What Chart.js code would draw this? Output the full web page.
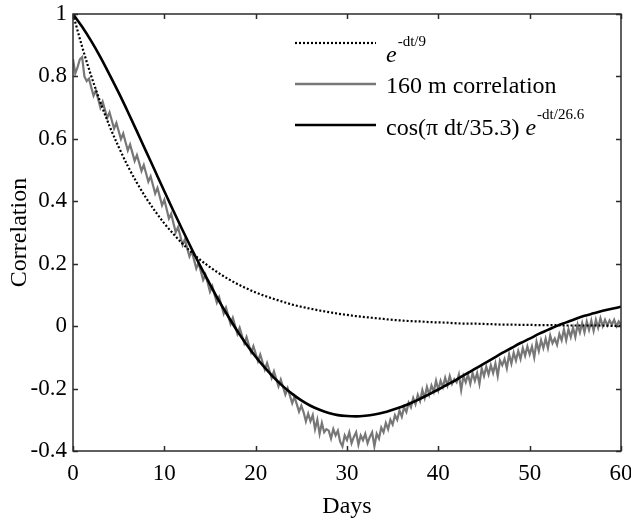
<!DOCTYPE html>
<html><head><meta charset="utf-8">
<script src="https://cdn.jsdelivr.net/npm/chart.js@4.4.1/dist/chart.umd.min.js"></script>
<style>html,body{margin:0;padding:0;background:#fff}#wrap{position:relative;width:631px;height:523px}</style>
</head><body><div id="wrap"><canvas id="c" width="631" height="523"></canvas></div>
<script>
const xTicks = [0, 10, 20, 30, 40, 50, 60];
const yTicks = [-0.4, -0.2, 0, 0.2, 0.4, 0.6, 0.8, 1];
const xTitle = "Days";
const yTitle = "Correlation";

// smooth curves, one value per day (day 0..60)
const fitDays = [0,1,2,3,4,5,6,7,8,9,10,11,12,13,14,15,16,17,18,19,20,21,22,23,24,25,26,27,28,29,30,
  31,32,33,34,35,36,37,38,39,40,41,42,43,44,45,46,47,48,49,50,51,52,53,54,55,56,57,58,59,60];
const expDecay = [1.000,0.895,0.801,0.717,0.641,0.574,0.513,0.459,0.411,0.368,0.329,0.295,0.264,0.236,0.211,0.189,
  0.169,0.151,0.135,0.121,0.108,0.097,0.087,0.078,0.069,0.062,0.056,0.050,0.045,0.040,0.036,0.032,0.029,0.026,
  0.023,0.020,0.018,0.016,0.015,0.013,0.012,0.011,0.009,0.008,0.008,0.007,0.006,0.005,0.005,0.004,0.004,0.003,
  0.003,0.003,0.002,0.002,0.002,0.002,0.002,0.001,0.001];
const cosDecay = [1.000,0.959,0.913,0.862,0.806,0.748,0.687,0.624,0.560,0.496,0.432,0.369,0.307,0.247,0.189,0.134,
  0.080,0.031,-0.016,-0.059,-0.098,-0.133,-0.165,-0.193,-0.217,-0.238,-0.255,-0.268,-0.278,-0.285,-0.288,-0.289,
  -0.287,-0.283,-0.277,-0.268,-0.258,-0.246,-0.233,-0.218,-0.203,-0.187,-0.171,-0.154,-0.137,-0.120,-0.103,-0.086,
  -0.070,-0.054,-0.040,-0.025,-0.012,0.001,0.012,0.023,0.033,0.041,0.049,0.056,0.062];

// observed 160 m correlation, every 0.25 day from day 0
const obsStep = 0.25;
const obsValues = [
  0.855,0.810,0.830,0.855, 0.862,0.800,0.785,0.793, 0.765,0.738,0.755,0.728, 0.700,0.719,0.693,0.667,
  0.685,0.659,0.633,0.651, 0.625,0.599,0.617,0.590, 0.563,0.582,0.556,0.529, 0.548,0.523,0.497,0.516,
  0.490,0.463,0.480,0.452, 0.425,0.443,0.415,0.387, 0.405,0.375,0.345,0.360, 0.330,0.301,0.317,0.289,
  0.260,0.278,0.250,0.223, 0.240,0.213,0.185,0.203, 0.175,0.148,0.165,0.138, 0.110,0.128,0.101,0.075,
  0.093,0.067,0.040,0.059, 0.033,0.007,0.027,0.001, -0.025,-0.005,-0.030,-0.055, -0.035,-0.060,-0.084,-0.064,
  -0.088,-0.112,-0.091,-0.115, -0.139,-0.118,-0.142,-0.166, -0.145,-0.169,-0.193,-0.171, -0.195,-0.219,-0.199,-0.223,
  -0.247,-0.226,-0.250,-0.274, -0.255,-0.276,-0.305,-0.280, -0.305,-0.285,-0.330,-0.300, -0.345,-0.310,-0.340,-0.330,
  -0.335,-0.360,-0.330,-0.350, -0.335,-0.370,-0.385,-0.350, -0.365,-0.340,-0.375,-0.355, -0.340,-0.380,-0.350,-0.365,
  -0.345,-0.375,-0.355,-0.340, -0.385,-0.345,-0.360,-0.325, -0.340,-0.310,-0.330,-0.300, -0.315,-0.285,-0.300,-0.270,
  -0.290,-0.260,-0.275,-0.245, -0.260,-0.230,-0.250,-0.220, -0.240,-0.205,-0.230,-0.195, -0.220,-0.190,-0.210,-0.175,
  -0.205,-0.175,-0.195,-0.165, -0.190,-0.160,-0.185,-0.170, -0.180,-0.155,-0.205,-0.160, -0.180,-0.155,-0.185,-0.150,
  -0.175,-0.150,-0.185,-0.135, -0.160,-0.130,-0.155,-0.125, -0.150,-0.120,-0.160,-0.110, -0.125,-0.105,-0.135,-0.090,
  -0.120,-0.085,-0.110,-0.080, -0.105,-0.070,-0.095,-0.065, -0.090,-0.065,-0.100,-0.050, -0.080,-0.045,-0.070,-0.040,
  -0.070,-0.030,-0.055,-0.040, -0.060,-0.025,-0.045,-0.010, -0.045,-0.010,-0.035,-0.005, -0.035,0.005,-0.020,0.010,
  -0.020,0.015,-0.012,0.018, -0.015,0.020,-0.005,0.025, 0.000,0.020,0.002,0.018, 0.005,0.020,0.000,0.015,
  0.005
];

const FONT = "'Liberation Serif', 'Times New Roman', serif";
const AXIS = '#2b2b2b';

const toXY = (xs, ys) => ys.map((v, i) => ({x: xs[i], y: v}));
const obsData = obsValues.map((v, i) => ({x: i * obsStep, y: v}));

const framePlugin = {
  id: 'frame',
  afterDatasetsDraw(chart) {
    const {ctx, chartArea: a, scales: {x, y}} = chart;
    ctx.save();
    ctx.strokeStyle = AXIS;
    ctx.lineWidth = 1.5;
    ctx.strokeRect(a.left, a.top, a.right - a.left, a.bottom - a.top);
    ctx.beginPath();
    const L = 5;
    xTicks.forEach(v => {
      const px = Math.round(x.getPixelForValue(v)) + 0.5;
      ctx.moveTo(px, a.bottom); ctx.lineTo(px, a.bottom - L);
      ctx.moveTo(px, a.top); ctx.lineTo(px, a.top + L);
    });
    yTicks.forEach(v => {
      const py = Math.round(y.getPixelForValue(v)) + 0.5;
      ctx.moveTo(a.left, py); ctx.lineTo(a.left + L, py);
      ctx.moveTo(a.right, py); ctx.lineTo(a.right - L, py);
    });
    ctx.stroke();
    ctx.restore();
  }
};

const legendPlugin = {
  id: 'mylegend',
  afterDraw(chart) {
    const {ctx} = chart;
    const x0 = 295, x1 = 376, tx = 386;
    const rows = [
      {y: 43, color: '#000', width: 2.2, dash: [2, 2], parts: [{t: 'e', it: true}, {t: '-dt/9', sup: true}], base: 19},
      {y: 84, color: '#777', width: 2.4, dash: [], parts: [{t: '160 m correlation'}], base: 9},
      {y: 125, color: '#000', width: 2.6, dash: [], parts: [{t: 'cos(\u03c0 dt/35.3) '}, {t: 'e', it: true}, {t: '-dt/26.6', sup: true}], base: 10}
    ];
    ctx.save();
    rows.forEach(r => {
      ctx.beginPath();
      ctx.strokeStyle = r.color; ctx.lineWidth = r.width; ctx.setLineDash(r.dash);
      ctx.moveTo(x0, r.y); ctx.lineTo(x1, r.y); ctx.stroke();
      ctx.setLineDash([]);
      let cx = tx;
      ctx.fillStyle = '#000';
      ctx.textBaseline = 'alphabetic';
      ctx.textAlign = 'left';
      r.parts.forEach(p => {
        ctx.font = (p.it ? 'italic ' : '') + (p.sup ? '15px ' : '24px ') + FONT;
        const by = r.y + r.base - (p.sup ? 16 : 0);
        ctx.fillText(p.t, cx, by);
        cx += ctx.measureText(p.t).width + (p.it ? 1 : 0);
      });
    });
    ctx.restore();
  }
};

const noPad = s => { s.paddingLeft = 0; s.paddingRight = 0; s.paddingTop = 0; s.paddingBottom = 0; };

new Chart(document.getElementById('c'), {
  type: 'line',
  data: {
    datasets: [
      {label: 'cos(\u03c0 dt/35.3) e^-dt/26.6', data: toXY(fitDays, cosDecay), borderColor: '#000', borderWidth: 2.6,
       pointRadius: 0, fill: false, cubicInterpolationMode: 'monotone'},
      {label: 'e^-dt/9', data: toXY(fitDays, expDecay), borderColor: '#000', borderWidth: 2.2, borderDash: [2, 2],
       pointRadius: 0, fill: false, cubicInterpolationMode: 'monotone'},
      {label: '160 m correlation', data: obsData, borderColor: '#777', borderWidth: 2.2, pointRadius: 0,
       fill: false, tension: 0}
    ]
  },
  options: {
    responsive: false,
    devicePixelRatio: 1,
    animation: false,
    layout: {padding: {left: 0, top: 14, right: 10, bottom: 0}},
    plugins: {legend: {display: false}, tooltip: {enabled: false}},
    scales: {
      x: {
        type: 'linear', min: 0, max: 60,
        afterBuildTicks: s => { s.ticks = xTicks.map(v => ({value: v})); },
        afterFit: s => { s.height = 72; noPad(s); },
        grid: {display: false, drawTicks: false},
        border: {display: false},
        ticks: {color: '#000', font: {family: FONT, size: 23}, padding: 9, maxRotation: 0,
                callback: v => String(v)},
        title: {display: true, text: xTitle, color: '#000', font: {family: FONT, size: 24}, padding: {top: 0, bottom: 2}}
      },
      y: {
        type: 'linear', min: -0.4, max: 1,
        afterBuildTicks: s => { s.ticks = yTicks.map(v => ({value: v})); },
        afterFit: s => { s.width = 73; noPad(s); },
        grid: {display: false, drawTicks: false},
        border: {display: false},
        ticks: {color: '#000', font: {family: FONT, size: 23}, padding: 6, callback: v => String(v)},
        title: {display: true, text: yTitle, color: '#000', font: {family: FONT, size: 24}, padding: {top: 5, bottom: 0}}
      }
    }
  },
  plugins: [framePlugin, legendPlugin]
});
</script></body></html>
